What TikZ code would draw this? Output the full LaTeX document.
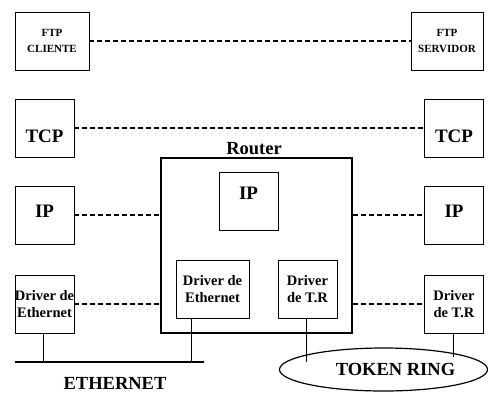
\documentclass[tikz,border=0pt]{standalone}
\usepackage{fontspec}
\setmainfont{Liberation Serif}
\usetikzlibrary{shapes.geometric}

\tikzset{
    layer/.style={draw, line width=0.8pt, inner sep=0pt, align=center,
        font=\fontsize{19}{19}\selectfont\bfseries,
        minimum width=59pt, minimum height=58pt},
    small/.style={font=\fontsize{11}{15.5}\selectfont\bfseries},
    drv/.style={font=\fontsize{14.5}{17.5}\selectfont\bfseries},
    lower/.style={text height=#1, text depth=0pt},
    raise/.style={text depth=#1},
    title/.style={font=\fontsize{18.5}{18.5}\selectfont\bfseries, inner sep=0pt},
    peer/.style={line width=1.2pt, dash pattern=on 5pt off 3pt},
    bus/.style={line width=2.6pt},
    tap/.style={line width=1pt}
}

\begin{document}
\begin{tikzpicture}[x=1pt, y=-1pt]
    \useasboundingbox (0,0) rectangle (488,392);
    % end hosts
    \node[layer, small, minimum width=74pt] (ftpC) at (52,41) {FTP\\CLIENTE};
    \node[layer, small, minimum width=72pt] (ftpS) at (447,41) {FTP\\SERVIDOR};
    \node[layer, lower=28.5pt] (tcpL) at (44.5,128) {TCP};
    \node[layer, lower=28.5pt] (tcpR) at (454,128) {TCP};
    \node[layer, raise=7pt] (ipL) at (44.5,215) {IP};
    \node[layer, raise=7pt] (ipR) at (454,215) {IP};
    \node[layer, drv] (drvL) at (44.5,304) {Driver de\\Ethernet};
    \node[layer, drv] (drvR) at (454,304) {Driver\\de T.R};
    % router
    \node[draw, line width=2.5pt, minimum width=191pt, minimum height=175pt] (router) at (256.5,245.5) {};
    \node[title, anchor=base] (routerLbl) at ([xshift=-2.5pt, yshift=2pt]router.north) {Router};
    \node[layer, raise=16pt] (ipM) at (248.5,201.5) {IP};
    \node[layer, drv, minimum width=73pt] (drvE) at (212.5,289) {Driver de\\Ethernet};
    \node[layer, drv] (drvT) at (307.5,289) {Driver\\de T.R};
    % peer links
    \draw[peer] (ftpC) -- (ftpS);
    \draw[peer] (tcpL) -- (tcpR);
    \draw[peer] (ipL) -- (ipL -| router.west);
    \draw[peer] (ipR -| router.east) -- (ipR);
    \draw[peer] (drvL) -- (drvL -| router.west);
    \draw[peer] (drvR -| router.east) -- (drvR);
    % ethernet segment
    \coordinate (ethL) at (15,362);
    \coordinate (ethR) at (204,362);
    \coordinate (tapL) at ([xshift=-1.5pt]drvL.south);
    \coordinate (tapE) at ([xshift=-21.5pt]drvE.south);
    \draw[bus] (ethL) -- (ethR);
    \draw[tap] (tapL) -- (tapL |- ethL);
    \draw[tap] (tapE) -- (tapE |- ethL);
    \node[title] (ethLbl) at (115,383) {ETHERNET};
    % token ring
    \node[draw, ellipse, line width=1.2pt, inner sep=0pt, minimum width=208pt, minimum height=43pt,
        font=\fontsize{18.5}{18.5}\selectfont\bfseries] (ring) at (383.5,369.5) {\hspace*{24pt}TOKEN RING};
    \coordinate (trT) at (306,362);
    \coordinate (trR) at (453,357);
    \draw[tap] (drvT.south -| trT) -- (trT);
    \draw[tap] (drvR.south -| trR) -- (trR);
\end{tikzpicture}
\end{document}
